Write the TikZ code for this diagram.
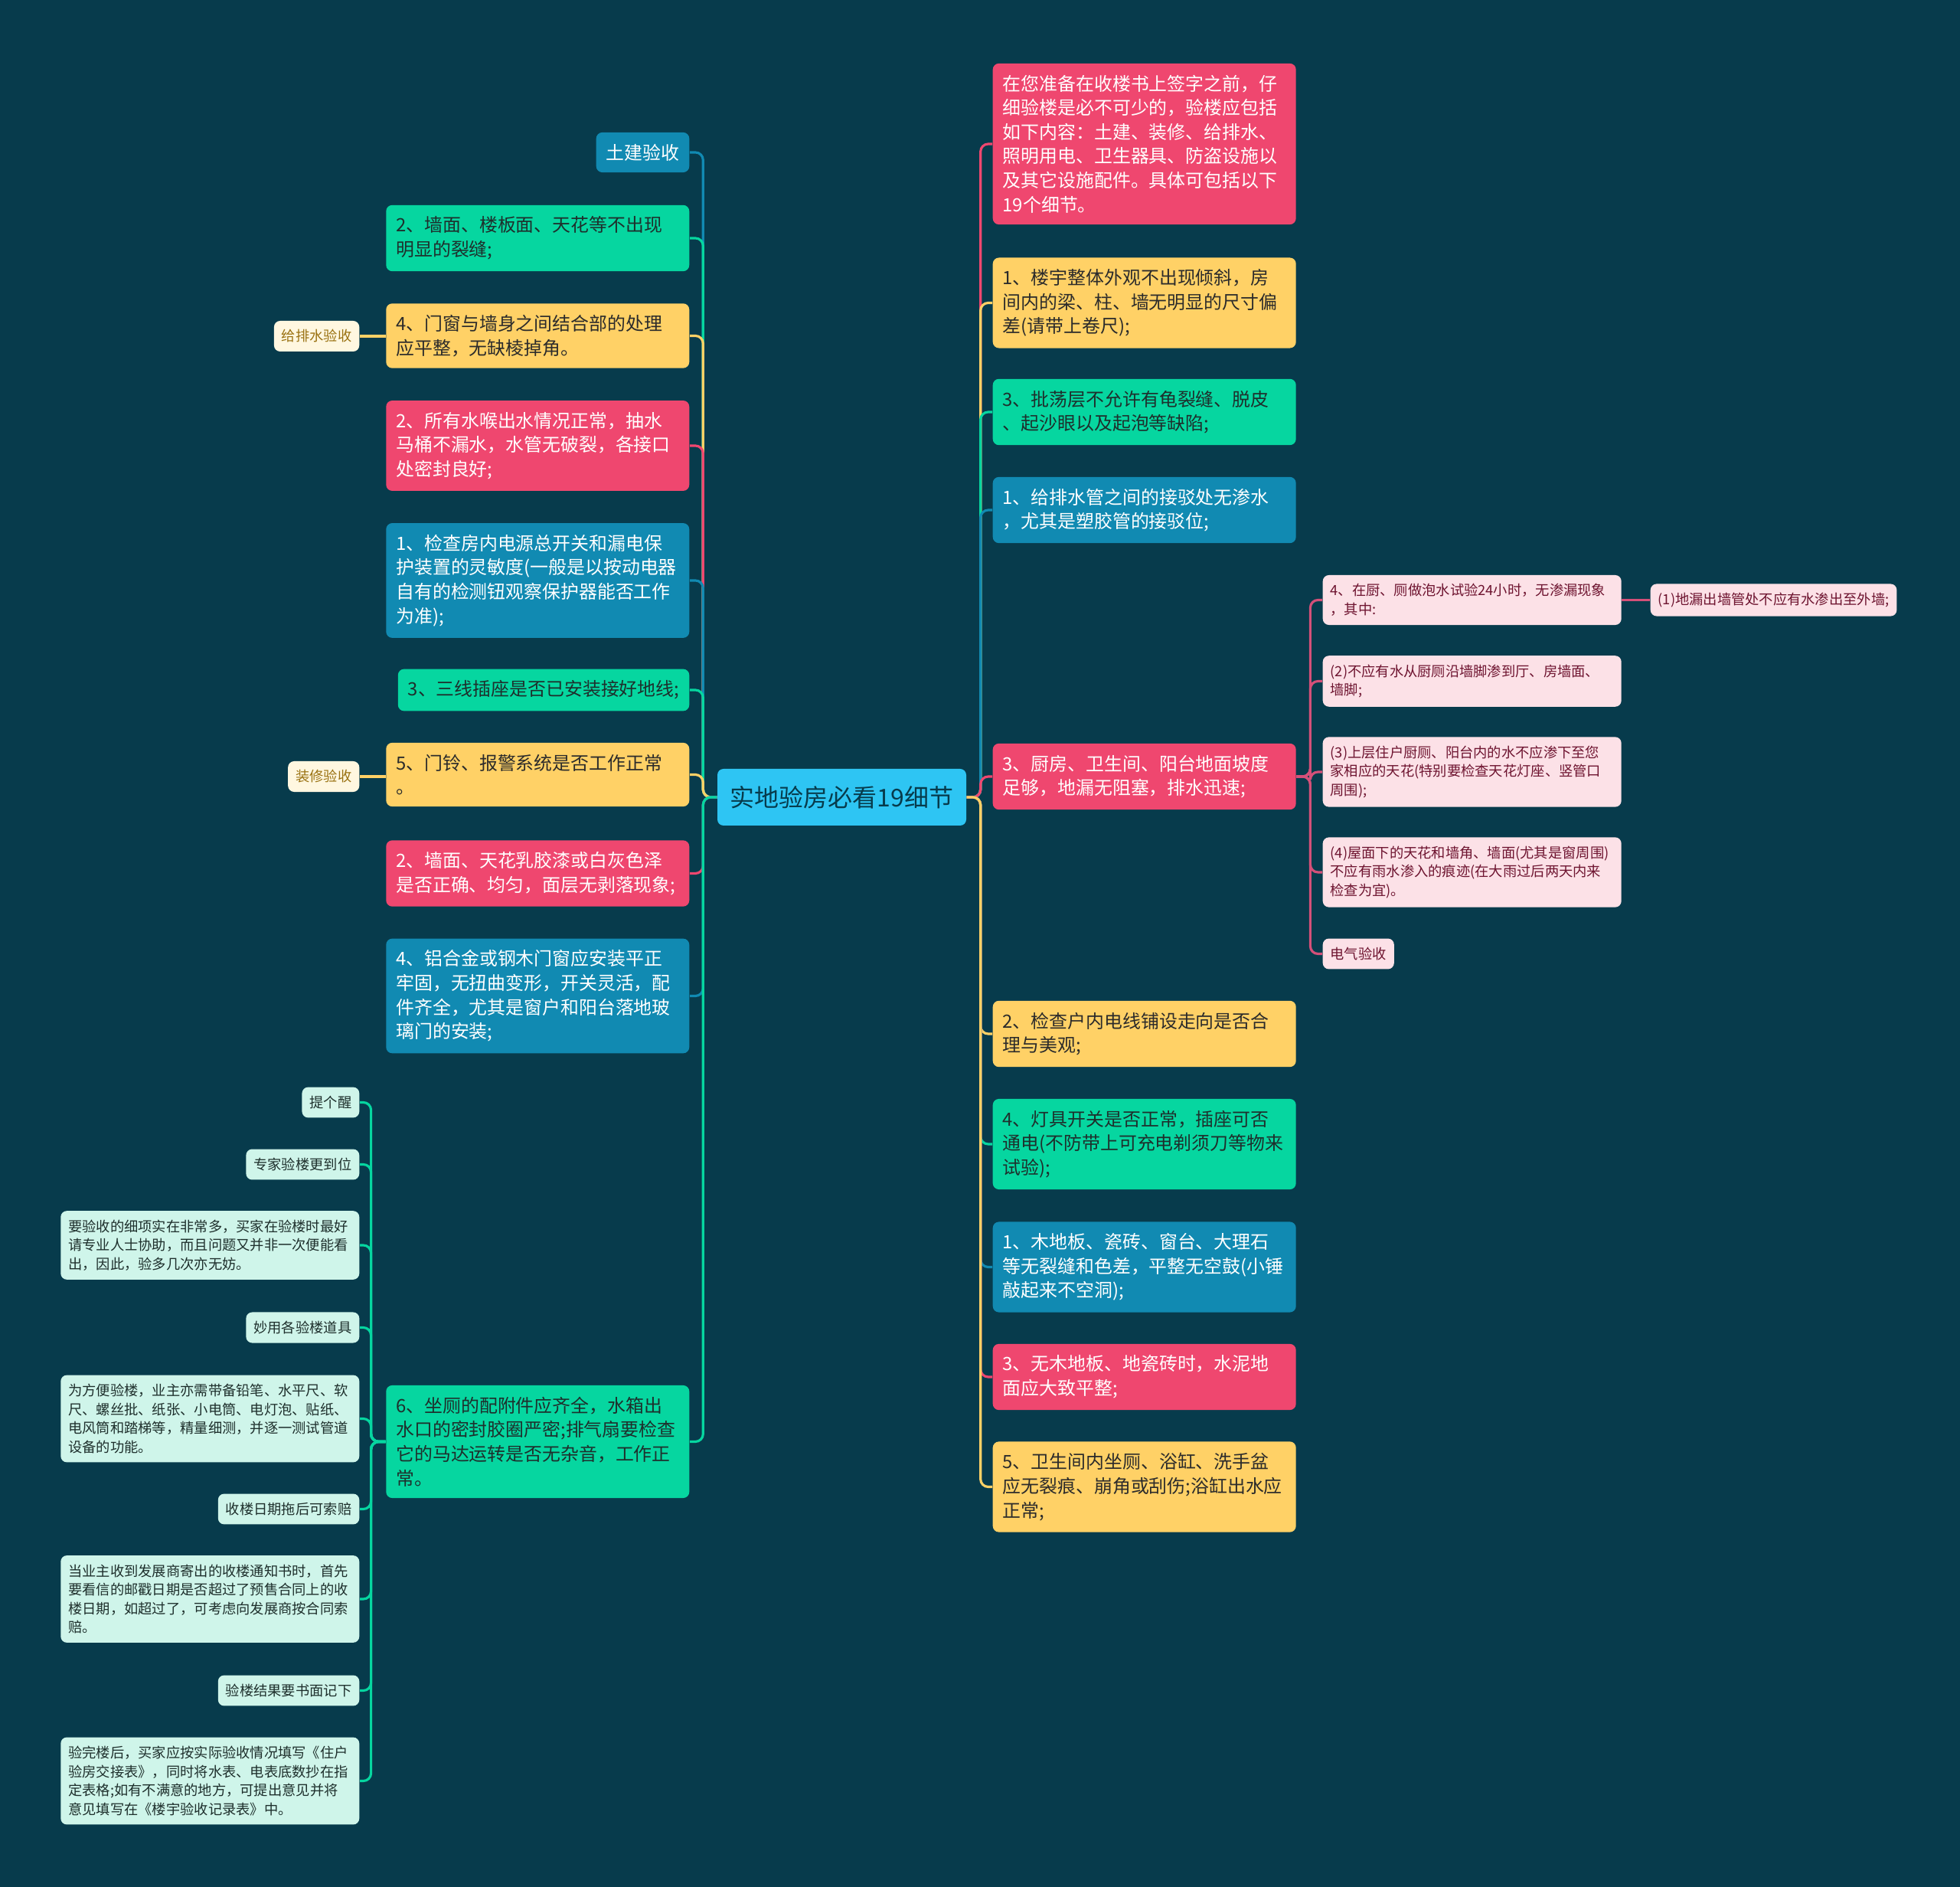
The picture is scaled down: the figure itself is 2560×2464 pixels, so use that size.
\documentclass[tikz,border=0pt]{standalone}
\usepackage{fontspec}
\setmainfont{Noto Sans CJK SC}
\usetikzlibrary{shapes,arrows,positioning,calc}

\definecolor{bgnavy}{HTML}{073B4C}
\definecolor{mmred}{HTML}{EF476F}
\definecolor{mmyellow}{HTML}{FFD166}
\definecolor{mmgreen}{HTML}{06D6A0}
\definecolor{mmblue}{HTML}{118AB2}
\definecolor{mmsky}{HTML}{2EC5F3}
\definecolor{mmpink}{HTML}{FCE1E7}
\definecolor{mmpinkline}{HTML}{D45079}
\definecolor{mmpinktext}{HTML}{6E1430}
\definecolor{mmmint}{HTML}{CFF5EA}
\definecolor{mmminttext}{HTML}{1E2F2C}
\definecolor{mmcream}{HTML}{FFF7E0}
\definecolor{mmgold}{HTML}{9A7212}
\definecolor{darktext}{HTML}{2B2B2B}

\tikzset{
  topic/.style={rounded corners=0.8mm, inner xsep=1.3mm, inner ysep=1.5mm, align=left, font=\fontsize{6.8}{9}\selectfont},
  wide/.style={text width=37mm},
  redbox/.style={topic, fill=mmred, text=white},
  yellowbox/.style={topic, fill=mmyellow, text=darktext},
  greenbox/.style={topic, fill=mmgreen, text=mmminttext},
  bluebox/.style={topic, fill=mmblue, text=white},
  leaf/.style={rounded corners=0.8mm, inner xsep=1mm, inner ysep=1.15mm, align=left, font=\fontsize{5.2}{7}\selectfont},
  leafwide/.style={text width=37mm},
  pinkleaf/.style={leaf, fill=mmpink, text=mmpinktext},
  mintleaf/.style={leaf, fill=mmmint, text=mmminttext},
  tagleaf/.style={leaf, fill=mmcream, text=mmgold},
  conn/.style={line width=0.9pt, rounded corners=1mm},
}

\begin{document}
\begin{tikzpicture}[x=0.1mm, y=-0.1mm]
  \fill[bgnavy] (0,0) rectangle (2560,2464);

  % root
  \node[rounded corners=0.8mm, fill=mmsky, text=bgnavy, minimum width=32.5mm, minimum height=7.4mm,
        font=\fontsize{9.1}{11}\selectfont] (root) at (1099.5,1041) {实地验房必看19细节};

  % left side
  \node[bluebox, anchor=east] (l1) at (901,199) {土建验收};
  \node[greenbox, wide, anchor=east] (l2) at (901,311) {2、墙面、楼板面、天花等不出现\\明显的裂缝;};
  \node[yellowbox, wide, anchor=east] (l3) at (901,438.5) {4、门窗与墙身之间结合部的处理\\应平整，无缺棱掉角。};
  \node[redbox, wide, anchor=east] (l4) at (901,582) {2、所有水喉出水情况正常，抽水\\马桶不漏水，水管无破裂，各接口\\处密封良好;};
  \node[bluebox, wide, anchor=east] (l5) at (901,758) {1、检查房内电源总开关和漏电保\\护装置的灵敏度(一般是以按动电器\\自有的检测钮观察保护器能否工作\\为准);};
  \node[greenbox, anchor=east] (l6) at (901,901) {3、三线插座是否已安装接好地线;};
  \node[yellowbox, wide, anchor=east] (l7) at (901,1011.5) {5、门铃、报警系统是否工作正常\\。};
  \node[redbox, wide, anchor=east] (l8) at (901,1140.5) {2、墙面、天花乳胶漆或白灰色泽\\是否正确、均匀，面层无剥落现象;};
  \node[bluebox, wide, anchor=east] (l9) at (901,1300.5) {4、铝合金或钢木门窗应安装平正\\牢固，无扭曲变形，开关灵活，配\\件齐全，尤其是窗户和阳台落地玻\\璃门的安装;};
  \node[greenbox, wide, anchor=east] (l10) at (901,1882.5) {6、坐厕的配附件应齐全，水箱出\\水口的密封胶圈严密;排气扇要检查\\它的马达运转是否无杂音，工作正\\常。};

  % tags on the left
  \node[tagleaf, anchor=east] (g1) at (470,439) {给排水验收};
  \node[tagleaf, anchor=east] (g2) at (470,1014) {装修验收};

  % leaves of l10
  \node[mintleaf, anchor=east] (t1) at (470,1439.5) {提个醒};
  \node[mintleaf, anchor=east] (t2) at (470,1520.5) {专家验楼更到位};
  \node[mintleaf, leafwide, anchor=east] (t3) at (470,1626) {要验收的细项实在非常多，买家在验楼时最好\\请专业人士协助，而且问题又并非一次便能看\\出，因此，验多几次亦无妨。};
  \node[mintleaf, anchor=east] (t4) at (470,1733.5) {妙用各验楼道具};
  \node[mintleaf, leafwide, anchor=east] (t5) at (470,1852.5) {为方便验楼，业主亦需带备铅笔、水平尺、软\\尺、螺丝批、纸张、小电筒、电灯泡、贴纸、\\电风筒和踏梯等，精量细测，并逐一测试管道\\设备的功能。};
  \node[mintleaf, anchor=east] (t6) at (470,1970.5) {收楼日期拖后可索赔};
  \node[mintleaf, leafwide, anchor=east] (t7) at (470,2088) {当业主收到发展商寄出的收楼通知书时，首先\\要看信的邮戳日期是否超过了预售合同上的收\\楼日期，如超过了，可考虑向发展商按合同索\\赔。};
  \node[mintleaf, anchor=east] (t8) at (470,2207.5) {验楼结果要书面记下};
  \node[mintleaf, leafwide, anchor=east] (t9) at (470,2325.5) {验完楼后，买家应按实际验收情况填写《住户\\验房交接表》，同时将水表、电表底数抄在指\\定表格;如有不满意的地方，可提出意见并将\\意见填写在《楼宇验收记录表》中。};

  % right side
  \node[redbox, wide, anchor=west] (r1) at (1296,188) {在您准备在收楼书上签字之前，仔\\细验楼是必不可少的，验楼应包括\\如下内容：土建、装修、给排水、\\照明用电、卫生器具、防盗设施以\\及其它设施配件。具体可包括以下\\19个细节。};
  \node[yellowbox, wide, anchor=west] (r2) at (1296,395.5) {1、楼宇整体外观不出现倾斜，房\\间内的梁、柱、墙无明显的尺寸偏\\差(请带上卷尺);};
  \node[greenbox, wide, anchor=west] (r3) at (1296,538) {3、批荡层不允许有龟裂缝、脱皮\\、起沙眼以及起泡等缺陷;};
  \node[bluebox, wide, anchor=west] (r4) at (1296,666) {1、给排水管之间的接驳处无渗水\\，尤其是塑胶管的接驳位;};
  \node[redbox, wide, anchor=west] (r5) at (1296,1014) {3、厨房、卫生间、阳台地面坡度\\足够，地漏无阻塞，排水迅速;};
  \node[yellowbox, wide, anchor=west] (r6) at (1296,1350) {2、检查户内电线铺设走向是否合\\理与美观;};
  \node[greenbox, wide, anchor=west] (r7) at (1296,1494) {4、灯具开关是否正常，插座可否\\通电(不防带上可充电剃须刀等物来\\试验);};
  \node[bluebox, wide, anchor=west] (r8) at (1296,1654.5) {1、木地板、瓷砖、窗台、大理石\\等无裂缝和色差，平整无空鼓(小锤\\敲起来不空洞);};
  \node[redbox, wide, anchor=west] (r9) at (1296,1798) {3、无木地板、地瓷砖时，水泥地\\面应大致平整;};
  \node[yellowbox, wide, anchor=west] (r10) at (1296,1941.5) {5、卫生间内坐厕、浴缸、洗手盆\\应无裂痕、崩角或刮伤;浴缸出水应\\正常;};

  % leaves of r5
  \node[pinkleaf, leafwide, anchor=west] (k1) at (1727,783.5) {4、在厨、厕做泡水试验24小时，无渗漏现象\\，其中:};
  \node[pinkleaf, anchor=west] (k1a) at (2155,783.5) {(1)地漏出墙管处不应有水渗出至外墙;};
  \node[pinkleaf, leafwide, anchor=west] (k2) at (1727,889.5) {(2)不应有水从厨厕沿墙脚渗到厅、房墙面、\\墙脚;};
  \node[pinkleaf, leafwide, anchor=west] (k3) at (1727,1008) {(3)上层住户厨厕、阳台内的水不应渗下至您\\家相应的天花(特别要检查天花灯座、竖管口\\周围);};
  \node[pinkleaf, leafwide, anchor=west] (k4) at (1727,1139) {(4)屋面下的天花和墙角、墙面(尤其是窗周围)\\不应有雨水渗入的痕迹(在大雨过后两天内来\\检查为宜)。};
  \node[pinkleaf, anchor=west] (k5) at (1727,1245.5) {电气验收};

  % connectors
  \draw[conn, mmblue]   (root.west) -- ++(-18,0) |- (l1.east);
  \draw[conn, mmgreen]  (root.west) -- ++(-18,0) |- (l2.east);
  \draw[conn, mmyellow] (root.west) -- ++(-18,0) |- (l3.east);
  \draw[conn, mmred]    (root.west) -- ++(-18,0) |- (l4.east);
  \draw[conn, mmblue]   (root.west) -- ++(-18,0) |- (l5.east);
  \draw[conn, mmgreen]  (root.west) -- ++(-18,0) |- (l6.east);
  \draw[conn, mmyellow] (root.west) -- ++(-18,0) |- (l7.east);
  \draw[conn, mmred]    (root.west) -- ++(-18,0) |- (l8.east);
  \draw[conn, mmblue]   (root.west) -- ++(-18,0) |- (l9.east);
  \draw[conn, mmgreen]  (root.west) -- ++(-18,0) |- (l10.east);

  \draw[conn, mmyellow] (g1.east) -- (g1.east -| l3.west);
  \draw[conn, mmyellow] (g2.east) -- (g2.east -| l7.west);

  \foreach \t in {t1,t2,t3,t4,t5,t6,t7,t8,t9}
    \draw[conn, mmgreen] (l10.west) -- ++(-19,0) |- (\t.east);

  \draw[conn, mmred]    (root.east) -- ++(18,0) |- (r1.west);
  \draw[conn, mmyellow] (root.east) -- ++(18,0) |- (r2.west);
  \draw[conn, mmgreen]  (root.east) -- ++(18,0) |- (r3.west);
  \draw[conn, mmblue]   (root.east) -- ++(18,0) |- (r4.west);
  \draw[conn, mmred]    (root.east) -- ++(18,0) |- (r5.west);
  \draw[conn, mmyellow] (root.east) -- ++(18,0) |- (r6.west);
  \draw[conn, mmgreen]  (root.east) -- ++(18,0) |- (r7.west);
  \draw[conn, mmblue]   (root.east) -- ++(18,0) |- (r8.west);
  \draw[conn, mmred]    (root.east) -- ++(18,0) |- (r9.west);
  \draw[conn, mmyellow] (root.east) -- ++(18,0) |- (r10.west);

  \foreach \k in {k1,k2,k3,k4,k5}
    \draw[conn, mmpinkline] (r5.east) -- ++(18,0) |- (\k.west);
  \draw[conn, mmpinkline] (k1.east) -- (k1a.west);
\end{tikzpicture}
\end{document}
